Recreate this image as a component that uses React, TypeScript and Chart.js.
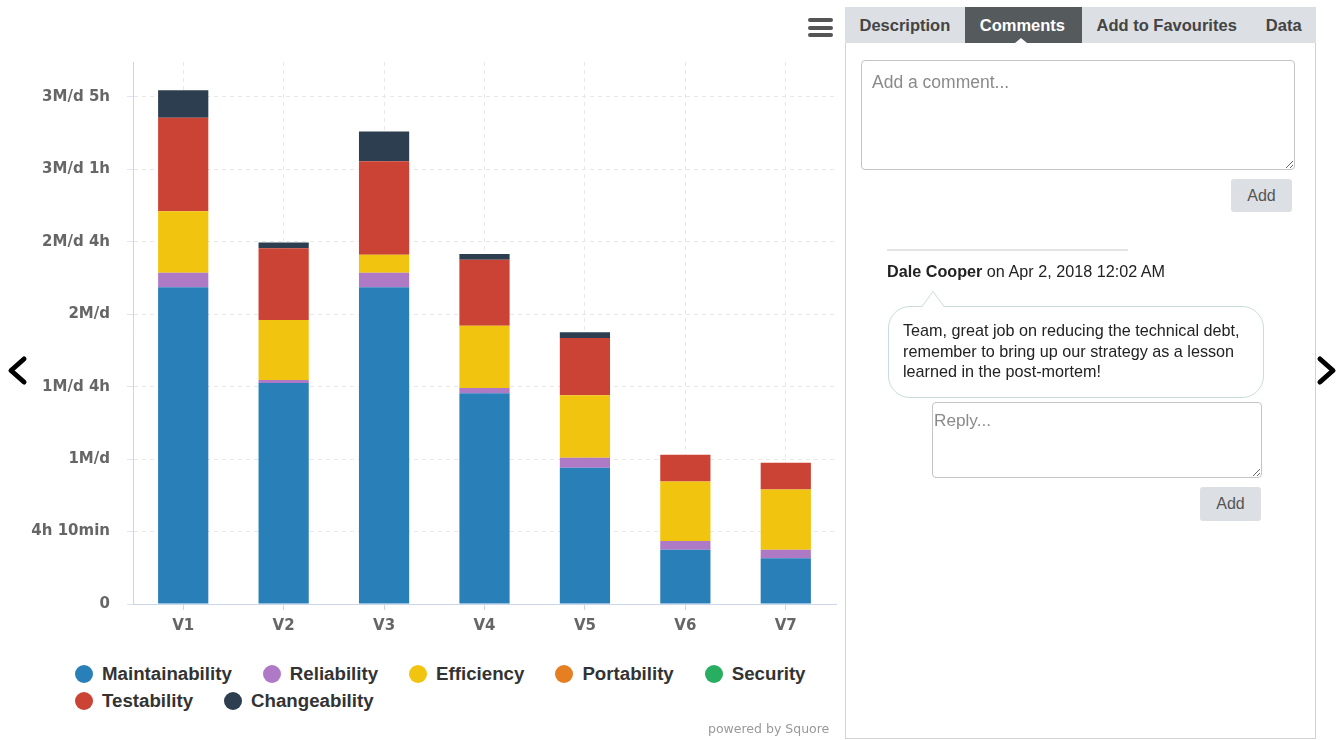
import React, { useEffect, useRef } from 'react';
import { Chart, registerables } from 'chart.js';

Chart.register(...registerables);

const categories = ['V1', 'V2', 'V3', 'V4', 'V5', 'V6', 'V7'];
const yTickLabels = ['0', '4h 10min', '1M/d', '1M/d 4h', '2M/d', '2M/d 4h', '3M/d 1h', '3M/d 5h'];

const maintainability = [4.37, 3.05, 4.37, 2.91, 1.88, 0.75, 0.63];
const reliability = [0.2, 0.04, 0.2, 0.07, 0.14, 0.12, 0.12];
const efficiency = [0.85, 0.83, 0.25, 0.86, 0.86, 0.82, 0.83];
const portability = [0, 0, 0, 0, 0, 0, 0];
const security = [0, 0, 0, 0, 0, 0, 0];
const testability = [1.29, 0.99, 1.29, 0.91, 0.79, 0.37, 0.37];
const changeability = [0.38, 0.08, 0.41, 0.08, 0.08, 0, 0];

const seriesNames = ['Maintainability', 'Reliability', 'Efficiency', 'Portability', 'Security', 'Testability', 'Changeability'];
const seriesColors = ['#2980b9', '#af7ac5', '#f1c40f', '#e67e22', '#27ae60', '#cb4335', '#2c3e50'];
const seriesValues = [maintainability, reliability, efficiency, portability, security, testability, changeability];

const yMax = 7.48;

const font = '"Liberation Sans", Arial, sans-serif';

function BarChart() {
  const ref = useRef<HTMLCanvasElement | null>(null);
  useEffect(() => {
    if (!ref.current) return;
    const chart = new Chart(ref.current, {
      type: 'bar',
      data: {
        labels: categories,
        datasets: seriesNames.map((name, i) => ({
          label: name,
          data: seriesValues[i],
          backgroundColor: seriesColors[i],
          borderWidth: 0,
          barPercentage: 0.5,
          categoryPercentage: 1,
        })),
      },
      options: {
        animation: false,
        responsive: false,
        maintainAspectRatio: false,
        layout: { padding: { top: 12, right: 9, left: 0, bottom: 0 } },
        plugins: {
          legend: { display: false },
          tooltip: { enabled: false },
        },
        scales: {
          x: {
            stacked: true,
            afterFit: (s: any) => {
              s.height = 36;
              s.paddingLeft = 0;
              s.paddingRight = 0;
            },
            grid: {
              offset: false,
              color: '#e8e8e8',
              tickColor: '#ccd6eb',
              tickLength: 6,
            },
            border: { color: '#ccd6eb', dash: [4, 4] },
            ticks: {
              color: '#666666',
              padding: 7,
              font: { family: '"DejaVu Sans", sans-serif', size: 15, weight: 'bold' },
            },
          },
          y: {
            stacked: true,
            min: 0,
            max: yMax,
            afterFit: (s: any) => {
              s.width = 133;
              s.paddingTop = 0;
              s.paddingBottom = 0;
            },
            afterBuildTicks: (s: any) => {
              s.ticks = s.ticks.filter((t: any) => Number.isInteger(t.value));
            },
            grid: {
              color: '#e8e8e8',
              tickColor: '#dfe5f0',
              tickLength: 6,
            },
            border: { color: '#ccd6eb', dash: [4, 4] },
            ticks: {
              stepSize: 1,
              color: '#666666',
              padding: 17,
              font: { family: '"DejaVu Sans", sans-serif', size: 15, weight: 'bold' },
              callback: (v: any) => (Number.isInteger(v) ? yTickLabels[v] : ''),
            },
          },
        },
      },
    });
    return () => chart.destroy();
  }, []);
  return (
    <canvas
      ref={ref}
      width={845}
      height={590}
      style={{ position: 'absolute', left: 0, top: 50, width: 845, height: 590 }}
    />
  );
}

function Legend() {
  return (
    <div
      style={{
        position: 'absolute',
        left: 75,
        top: 660,
        width: 770,
        display: 'flex',
        flexWrap: 'wrap',
        fontFamily: font,
        fontWeight: 'bold',
        fontSize: 18.7,
        color: '#333',
      }}
    >
      {seriesNames.map((n, i) => (
        <div key={n} style={{ display: 'flex', alignItems: 'center', height: 27, marginRight: 31 }}>
          <span
            style={{
              display: 'inline-block',
              width: 18,
              height: 18,
              borderRadius: 9,
              background: seriesColors[i],
              marginRight: 9,
            }}
          />
          <span>{n}</span>
        </div>
      ))}
    </div>
  );
}

const btn: React.CSSProperties = {
  position: 'absolute',
  background: '#dcdfe3',
  borderRadius: 3,
  color: '#555',
  fontFamily: font,
  fontSize: 16,
  display: 'flex',
  alignItems: 'center',
  justifyContent: 'center',
};

function Panel() {
  const tabs = ['Description', 'Comments', 'Add to Favourites', 'Data'];
  return (
    <>
      <div
        style={{
          position: 'absolute',
          left: 845,
          top: 7,
          width: 471,
          height: 732,
          boxSizing: 'border-box',
          border: '1px solid #d2d2d2',
          borderTop: 'none',
        }}
      >
        <div style={{ display: 'flex', height: 36, background: '#dcdfe3', margin: '0 -1px' }}>
          {tabs.map((t) => {
            const active = t === 'Comments';
            return (
              <div
                key={t}
                style={{
                  position: 'relative',
                  padding: active ? '0 17px 0 15px' : '0 14.5px',
                  lineHeight: '36px',
                  fontFamily: font,
                  fontWeight: 'bold',
                  fontSize: 16.5,
                  color: active ? '#fff' : '#444',
                  background: active ? '#555a5d' : 'transparent',
                  whiteSpace: 'nowrap',
                }}
              >
                {t}
                {active && (
                  <span
                    style={{
                      position: 'absolute',
                      left: '43%',
                      bottom: 0,
                      width: 0,
                      height: 0,
                      borderLeft: '6px solid transparent',
                      borderRight: '6px solid transparent',
                      borderBottom: '5px solid #fff',
                    }}
                  />
                )}
              </div>
            );
          })}
        </div>
      </div>
      <textarea
        className="cmt"
        placeholder="Add a comment..."
        style={{
          position: 'absolute',
          left: 861,
          top: 60,
          width: 434,
          height: 110,
          boxSizing: 'border-box',
          border: '1px solid #c4c4c4',
          borderRadius: 4,
          padding: '11px 10px',
          fontFamily: font,
          fontSize: 17.5,
          margin: 0,
        }}
      />
      <div style={{ ...btn, left: 1231, top: 179, width: 61, height: 33 }}>Add</div>
      <div style={{ position: 'absolute', left: 887, top: 249, width: 241, height: 2, background: '#e4e4e4' }} />
      <div
        style={{
          position: 'absolute',
          left: 887,
          top: 261,
          lineHeight: '20px',
          fontFamily: font,
          fontSize: 16.2,
          color: '#222',
          whiteSpace: 'nowrap',
        }}
      >
        <b>Dale Cooper</b> on Apr 2, 2018 12:02 AM
      </div>
      <div
        style={{
          position: 'absolute',
          left: 888,
          top: 306,
          width: 376,
          height: 92,
          boxSizing: 'border-box',
          border: '1px solid #c9dbdb',
          borderRadius: 22,
          padding: '13px 0 0 14px',
          fontFamily: font,
          fontSize: 16.2,
          lineHeight: '20.5px',
          color: '#222',
          whiteSpace: 'nowrap',
        }}
      >
        Team, great job on reducing the technical debt,
        <br />
        remember to bring up our strategy as a lesson
        <br />
        learned in the post-mortem!
      </div>
      <svg style={{ position: 'absolute', left: 920, top: 290, width: 28, height: 18, overflow: 'visible' }}>
        <polygon points="2,17 13,2 24,17" fill="#fff" stroke="none" />
        <polyline points="2,16.5 13,1.5 24,16.5" fill="none" stroke="#c9dbdb" strokeWidth={1} />
      </svg>
      <textarea
        className="cmt"
        placeholder="Reply..."
        style={{
          position: 'absolute',
          left: 932,
          top: 402,
          width: 330,
          height: 76,
          boxSizing: 'border-box',
          border: '1px solid #c4c4c4',
          borderRadius: 4,
          padding: '7px 1px',
          fontFamily: font,
          fontSize: 17.2,
          margin: 0,
        }}
      />
      <div style={{ ...btn, left: 1200, top: 487, width: 61, height: 34 }}>Add</div>
    </>
  );
}

export default function App() {
  return (
    <div style={{ position: 'absolute', left: 0, top: 0, width: 1343, height: 740, background: '#fff', overflow: 'hidden' }}>
      <style>{'.cmt::placeholder{color:#8a8a8a;opacity:1}'}</style>
      <BarChart />
      <Legend />
      {[18, 26, 33].map((t) => (
        <div key={t} style={{ position: 'absolute', left: 808, top: t, width: 25, height: 4, borderRadius: 2, background: '#555' }} />
      ))}
      <svg style={{ position: 'absolute', left: 0, top: 0, width: 1343, height: 740, pointerEvents: 'none' }}>
        <polyline points="24,359 11,370.5 24,382" fill="none" stroke="#000" strokeWidth={5} strokeLinecap="round" strokeLinejoin="round" />
        <polyline points="1320,359 1333,370.5 1320,382" fill="none" stroke="#000" strokeWidth={5} strokeLinecap="round" strokeLinejoin="round" />
      </svg>
      <Panel />
      <div
        style={{
          position: 'absolute',
          left: 708,
          top: 721,
          fontFamily: '"DejaVu Sans", sans-serif',
          fontSize: 12.5,
          color: '#999',
          whiteSpace: 'nowrap',
        }}
      >
        powered by Squore
      </div>
    </div>
  );
}
